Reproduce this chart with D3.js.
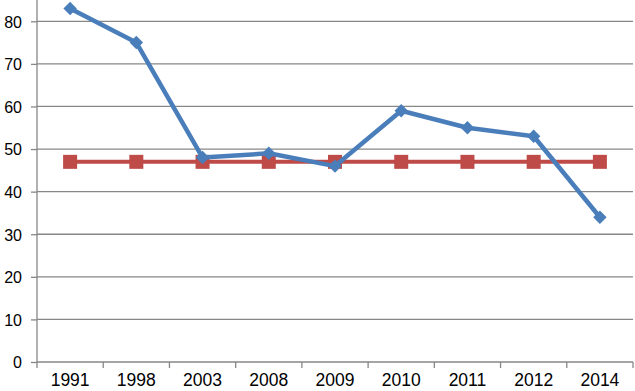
<!DOCTYPE html>
<html>
<head>
<meta charset="utf-8">
<script src="https://cdn.jsdelivr.net/npm/d3@7"></script>
<style>
body { margin: 0; background: #fff; }
text { font-family: "Liberation Sans", Arial, sans-serif; }
</style>
</head>
<body>
<script>
// data
var years = ["1991", "1998", "2003", "2008", "2009", "2010", "2011", "2012", "2014"];
var blueValues = [83, 75, 48, 49, 46, 59, 55, 53, 34];
var redValues = [47, 47, 47, 47, 47, 47, 47, 47, 47];
var yTicks = [0, 10, 20, 30, 40, 50, 60, 70, 80];

var svgWidth = 635, svgHeight = 391;
var plotLeft = 37, plotRight = 633, plotBottom = 362, plotTop = 0;

var svg = d3.select("body").append("svg")
	.attr("width", svgWidth)
	.attr("height", svgHeight);

var x = d3.scaleBand().domain(years).range([plotLeft, plotRight]);
var y = d3.scaleLinear().domain([0, 85]).range([plotBottom, plotTop]);

// gridlines
svg.append("g").selectAll("line")
	.data(yTicks.filter(function(d) { return d > 0; }))
	.enter().append("line")
	.attr("x1", plotLeft).attr("x2", plotRight)
	.attr("y1", function(d) { return y(d); })
	.attr("y2", function(d) { return y(d); })
	.attr("stroke", "#878787")
	.attr("stroke-width", 1.3);

// y axis
var yAxis = svg.append("g")
	.attr("transform", "translate(" + plotLeft + ",0)")
	.call(d3.axisLeft(y).tickValues(yTicks).tickSize(6).tickPadding(9));
yAxis.select(".domain").attr("stroke", "#878787").attr("stroke-width", 1.3).attr("d", "M0," + plotTop + "V" + plotBottom);
yAxis.selectAll(".tick line").attr("stroke", "#878787").attr("stroke-width", 1.3);
yAxis.selectAll(".tick text").attr("font-size", 16).attr("fill", "#000").attr("dy", "0.36em");

// x axis
var xAxis = svg.append("g")
	.attr("transform", "translate(0," + plotBottom + ")")
	.call(d3.axisBottom(x).tickSize(0).tickPadding(12));
xAxis.select(".domain").attr("stroke", "#878787").attr("stroke-width", 1.3).attr("d", "M" + plotLeft + ",0H" + plotRight);
xAxis.selectAll(".tick text").attr("font-size", 17.5).attr("fill", "#000");
xAxis.append("g").selectAll("line")
	.data(years.concat(["end"]))
	.enter().append("line")
	.attr("x1", function(d, i) { return plotLeft + i * x.step(); })
	.attr("x2", function(d, i) { return plotLeft + i * x.step(); })
	.attr("y1", 0).attr("y2", 6)
	.attr("stroke", "#878787")
	.attr("stroke-width", 1.3);

var line = d3.line()
	.x(function(d, i) { return x(years[i]) + x.bandwidth() / 2; })
	.y(function(d) { return y(d); });

// red series
svg.append("path")
	.datum(redValues)
	.attr("d", line)
	.attr("fill", "none")
	.attr("stroke", "#be4b48")
	.attr("stroke-width", 4);
svg.append("g").selectAll("rect")
	.data(redValues)
	.enter().append("rect")
	.attr("x", function(d, i) { return x(years[i]) + x.bandwidth() / 2 - 7; })
	.attr("y", function(d) { return y(d) - 7; })
	.attr("width", 14).attr("height", 14)
	.attr("fill", "#be4b48");

// blue series
svg.append("path")
	.datum(blueValues)
	.attr("d", line)
	.attr("fill", "none")
	.attr("stroke", "#4a7ebb")
	.attr("stroke-width", 4.5)
	.attr("stroke-linejoin", "round");
svg.append("g").selectAll("path")
	.data(blueValues)
	.enter().append("path")
	.attr("d", d3.symbol().type(d3.symbolDiamond2).size(115))
	.attr("transform", function(d, i) {
		return "translate(" + (x(years[i]) + x.bandwidth() / 2) + "," + y(d) + ")";
	})
	.attr("fill", "#4a7ebb");
</script>
</body>
</html>
